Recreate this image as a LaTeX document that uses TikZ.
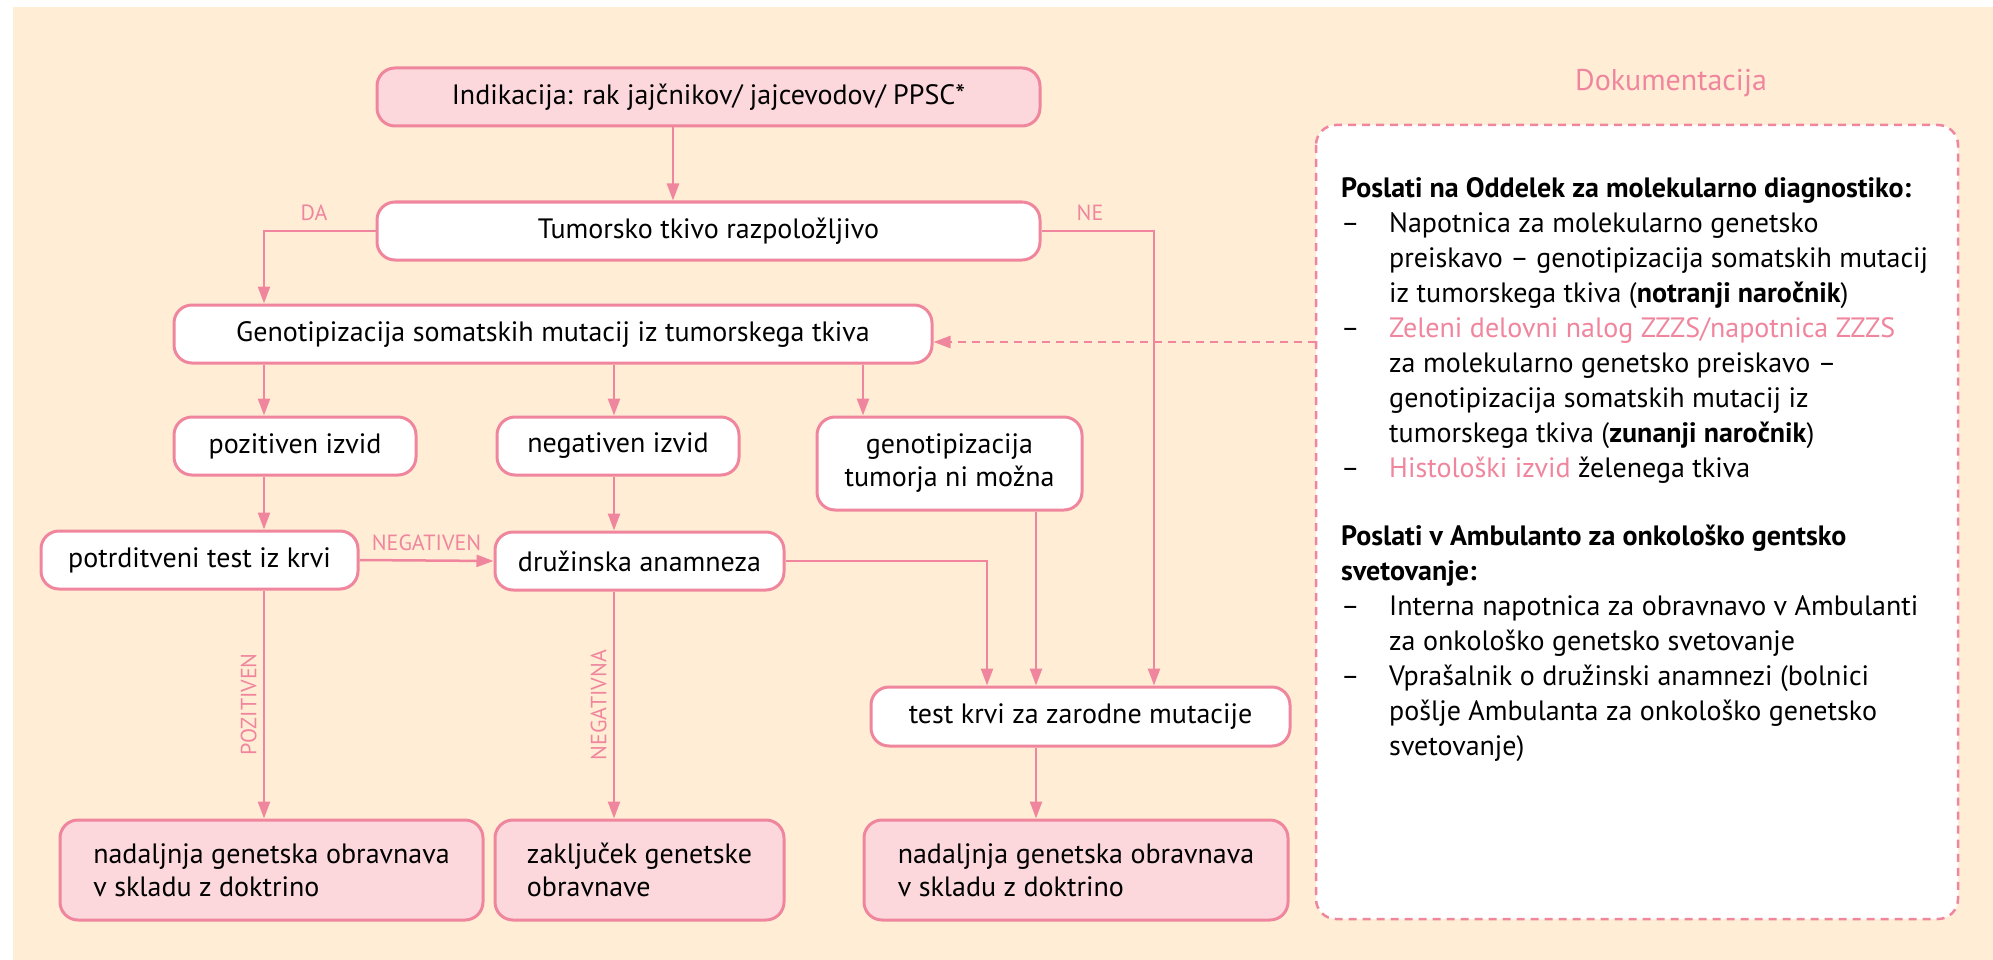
\documentclass[tikz,border=0pt]{standalone}
\usepackage{fontspec}
\setmainfont{PT Sans}
\usetikzlibrary{arrows.meta}
\definecolor{ozadje}{RGB}{255,238,213}
\definecolor{roza}{RGB}{240,134,158}
\definecolor{rozapolnilo}{RGB}{252,216,221}
\newcommand\flowfont{\fontsize{28}{33}\selectfont}
\newcommand\docfont{\fontsize{28}{35}\selectfont}
\newcommand\labelfont{\fontsize{22}{24}\selectfont}
\begin{document}
\begin{tikzpicture}[x=1pt, y=-1pt,
    okvir/.style={draw=roza, line width=3pt, rounded corners=18pt, fill=white,
      inner sep=0pt, font=\flowfont, align=center},
    konec/.style={okvir, fill=rozapolnilo, align=left},
    pus/.style={draw=roza, line width=2.5pt, -{Triangle[length=17pt,width=12pt]}},
    oznaka/.style={text=roza, font=\labelfont, inner sep=0pt}]
    \useasboundingbox (0,0) rectangle (1993,960);
    \fill[ozadje] (13,7) rectangle (1993,960);
    % stolpci za povezave
    \coordinate (k0) at (673,0);
    \coordinate (k1) at (264,0);
    \coordinate (k2) at (614,0);
    \coordinate (k3) at (863,0);
    \coordinate (k4) at (987,0);
    \coordinate (k5) at (1036,0);
    \coordinate (k6) at (1154,0);
    \node[okvir, fill=rozapolnilo, minimum width=663pt, minimum height=58pt] (A) at (708.5,97) {Indikacija: rak jajčnikov/ jajcevodov/ PPSC*};
    \node[okvir, minimum width=663pt, minimum height=58pt] (B) at (708.5,231) {Tumorsko tkivo razpoložljivo};
    \node[okvir, minimum width=758pt, minimum height=58pt] (C) at (553,334) {Genotipizacija somatskih mutacij iz tumorskega tkiva};
    \node[okvir, minimum width=242pt, minimum height=58pt] (D) at (295,446) {pozitiven izvid};
    \node[okvir, minimum width=242pt, minimum height=58pt] (E) at (618,446) {negativen izvid};
    \node[okvir, minimum width=265pt, minimum height=93pt] (F) at (949.5,463.5) {genotipizacija\\tumorja ni možna};
    \node[okvir, minimum width=317pt, minimum height=58pt] (G) at (199.5,560) {potrditveni test iz krvi};
    \node[okvir, minimum width=289pt, minimum height=58pt] (H) at (639.5,561) {družinska anamneza};
    \node[okvir, minimum width=419pt, minimum height=59pt] (I) at (1080.5,716.5) {test krvi za zarodne mutacije};
    \node[konec, minimum width=423pt, minimum height=100pt] (J) at (271.5,870) {nadaljnja genetska obravnava\\v skladu z doktrino};
    \node[konec, minimum width=289pt, minimum height=100pt] (K) at (639.5,870) {zaključek genetske\\obravnave};
    \node[konec, minimum width=424pt, minimum height=100pt] (L) at (1076,870) {nadaljnja genetska obravnava\\v skladu z doktrino};
    % dokumentacija
    \node[text=roza, font=\fontsize{30}{36}\selectfont] (M) at (1671,83) {Dokumentacija};
    \draw[roza, line width=2.5pt, dash pattern=on 8pt off 6pt, fill=white, rounded corners=20pt]
      (1316,125) rectangle (1958,919);
    \coordinate (N) at (1316,342);
    \node[anchor=base west, inner sep=0pt, font=\docfont] (O) at (1341,197) {%
      \begin{tabular}[t]{@{}p{48pt}@{}l@{}}
      \multicolumn{2}{@{}l@{}}{\textbf{Poslati na Oddelek za molekularno diagnostiko:}}\\
      – & Napotnica za molekularno genetsko\\
        & preiskavo – genotipizacija somatskih mutacij\\
        & iz tumorskega tkiva (\textbf{notranji naročnik})\\
      – & \textcolor{roza}{Zeleni delovni nalog ZZZS/napotnica ZZZS}\\
        & za molekularno genetsko preiskavo –\\
        & genotipizacija somatskih mutacij iz\\
        & tumorskega tkiva (\textbf{zunanji naročnik})\\
      – & \textcolor{roza}{Histološki izvid} želenega tkiva\\[33pt]
      \multicolumn{2}{@{}l@{}}{\textbf{Poslati v Ambulanto za onkološko gentsko}}\\
      \multicolumn{2}{@{}l@{}}{\textbf{svetovanje:}}\\
      – & Interna napotnica za obravnavo v Ambulanti\\
        & za onkološko genetsko svetovanje\\
      – & Vprašalnik o družinski anamnezi (bolnici\\
        & pošlje Ambulanta za onkološko genetsko\\
        & svetovanje)
      \end{tabular}};
    % povezave
    \draw[pus] (A.south -| k0) -- (B.north -| k0);
    \draw[pus] (B.west) -| (C.north -| k1);
    \node[oznaka] at (314,213) {DA};
    \draw[pus] (B.east) -| (I.north -| k6);
    \node[oznaka] at (1090,213) {NE};
    \draw[pus] (C.south -| k1) -- (D.north -| k1);
    \draw[pus] (C.south -| k2) -- (E.north -| k2);
    \draw[pus] (C.south -| k3) -- (F.north -| k3);
    \draw[pus] (D.south -| k1) -- (G.north -| k1);
    \draw[pus] (E.south -| k2) -- (H.north -| k2);
    \draw[pus] (G.east) -- node[oznaka, above=8pt] {NEGATIVEN} (H.west);
    \draw[pus] (H.east) -| (I.north -| k4);
    \draw[pus] (F.south -| k5) -- (I.north -| k5);
    \draw[pus] (G.south -| k1) -- node[oznaka, rotate=90, above=6pt] {POZITIVEN} (J.north -| k1);
    \draw[pus] (H.south -| k2) -- node[oznaka, rotate=90, above=6pt] {NEGATIVNA} (K.north -| k2);
    \draw[pus] (I.south -| k5) -- (L.north -| k5);
    \draw[pus, dash pattern=on 8pt off 6pt] (N) -- (C.east |- N);
\end{tikzpicture}
\end{document}
